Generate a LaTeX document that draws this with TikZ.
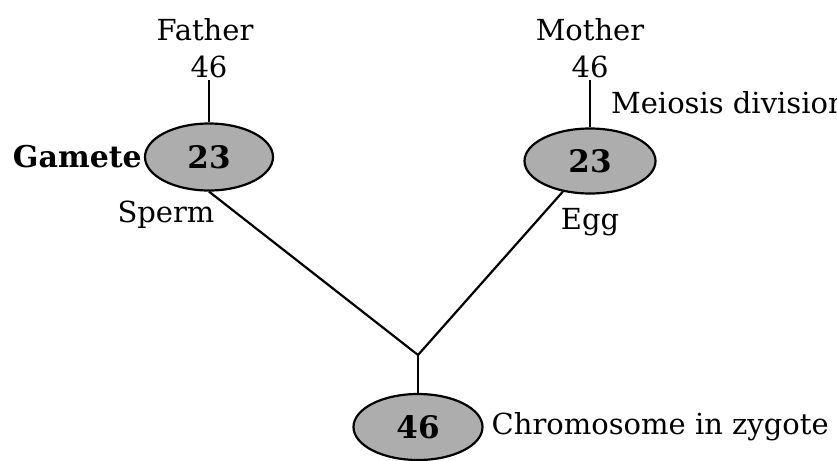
\documentclass[tikz,border=0pt]{standalone}
\usepackage{fontspec}
\setmainfont{DejaVu Serif}
\usetikzlibrary{positioning,shapes.geometric}

\begin{document}
\begin{tikzpicture}[x=1pt, y=-1pt, line width=2.2pt, node distance=6pt,
  every node/.style={font=\fontsize{29}{32}\selectfont, inner sep=1pt},
  cell/.style={draw, ellipse, fill=black!32, minimum width=128pt, minimum height=67pt, inner sep=0pt, font=\fontsize{31}{32}\selectfont\bfseries}]
\useasboundingbox (0,0) rectangle (837,460);

% parents
\node (father) at (205,30) {Father};
\node (fnum) at (209,67) {46};
\node (mother) at (590,30) {Mother};
\node (mnum) at (590,67) {46};

% gametes
\node[cell] (sperm) at (209,157) {23};
\node[cell, minimum width=131pt, minimum height=65pt] (egg) at (590,161) {23};
\node[font=\fontsize{30}{32}\selectfont\bfseries, left=0pt of sperm] (gam) {Gamete};
\node (sp) at (166,215) {Sperm};
\node (eg) at (590,222) {Egg};
\node[anchor=west] (meio) at (609,103) {Meiosis division};

% zygote
\coordinate (join) at (418,355);
\node[cell, minimum width=129pt, minimum height=66pt] (zyg) at (418,427) {46};
\node[right=of zyg] (zlab) {Chromosome in zygote};

\draw (fnum) -- (sperm);
\draw (mnum) -- (egg);
\draw (sperm.south) -- (join);
\draw (egg) -- (join);
\draw (join) -- (zyg);
\end{tikzpicture}
\end{document}
